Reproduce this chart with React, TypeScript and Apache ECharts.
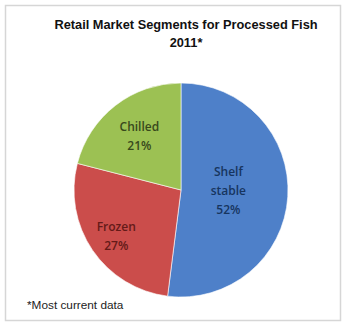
import React, { useEffect, useRef } from "react";
import * as echarts from "echarts";

const titleLines = ["Retail Market Segments for Processed Fish", "2011*"];
const footnote = "*Most current data";
const categories = ["Shelf\nstable", "Frozen", "Chilled"];
const values = [52, 27, 21];
const colors = ["#4E80C9", "#CB4D4B", "#9CC153"];
const labelColors = ["#17355F", "#641A18", "#38491C"];
const labelShift = [
  [-9, -3],
  [-18, 14],
  [-7, -9],
];

export default function App() {
  const ref = useRef<HTMLDivElement>(null);
  useEffect(() => {
    if (!ref.current) return;
    const chart = echarts.init(ref.current, undefined, { renderer: "svg" });
    chart.setOption({
      animation: false,
      backgroundColor: "#ffffff",
      title: {
        text: titleLines.join("\n"),
        left: 181,
        top: 10,
        textAlign: "center",
        textStyle: {
          fontFamily: "Liberation Sans",
          fontWeight: "bold",
          fontSize: 12.8,
          lineHeight: 18,
          color: "#111111",
        },
      },
      graphic: [
        {
          type: "rect",
          shape: { x: 5.5, y: 5.5, width: 335, height: 315 },
          style: { fill: "none", stroke: "#d6d6d6", lineWidth: 1.5 },
          silent: true,
        },
        {
          type: "text",
          left: 27,
          top: 299,
          style: {
            text: footnote,
            fontFamily: "Liberation Sans",
            fontSize: 11.8,
            fill: "#222222",
          },
        },
      ],
      series: [
        {
          type: "pie",
          center: [181, 190],
          radius: [0, 107],
          startAngle: 90,
          clockwise: true,
          avoidLabelOverlap: false,
          itemStyle: { borderColor: "#ffffff", borderWidth: 0.6 },
          label: {
            show: true,
            position: "inside",
            fontFamily: "Open Sans",
            fontWeight: 600,
            fontSize: 12,
            lineHeight: 19,
            align: "center",
            formatter: (p: any) => `${p.name}\n${p.value}%`,
          },
          labelLayout: (p: any) => ({
            dx: labelShift[p.dataIndex][0],
            dy: labelShift[p.dataIndex][1],
          }),
          data: categories.map((c, i) => ({
            name: c,
            value: values[i],
            itemStyle: { color: colors[i] },
            label: { color: labelColors[i] },
          })),
        },
      ],
    });
    return () => chart.dispose();
  }, []);
  return (
    <div
      ref={ref}
      style={{ position: "fixed", left: 0, top: 0, width: 348, height: 324, background: "#fff" }}
    />
  );
}
